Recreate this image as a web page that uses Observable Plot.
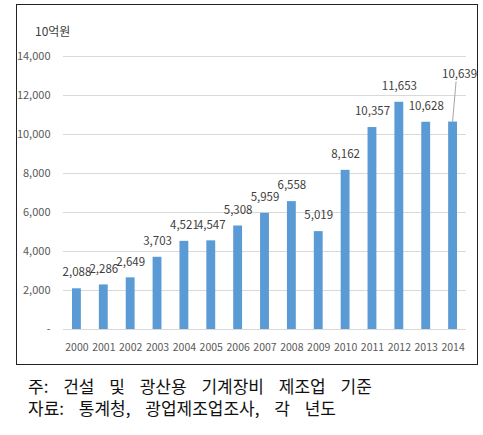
<!DOCTYPE html>
<html>
<head>
<meta charset="utf-8">
<script src="https://cdn.jsdelivr.net/npm/d3@7"></script>
<script src="https://cdn.jsdelivr.net/npm/@observablehq/plot@0.6"></script>
<style>
  body { margin: 0; background: #fff; width: 483px; height: 435px; position: relative; overflow: hidden; }
  #chart { position: absolute; left: 16px; top: 4px; border: 1.5px solid #222; background: #fff; }
  #chart svg { display: block; }
  #caption { position: absolute; left: 28px; top: 375px; font-family: "Noto Sans CJK KR", sans-serif; font-size: 17px; line-height: 22px; color: #111; word-spacing: 11px; white-space: nowrap; }
</style>
</head>
<body>
<div id="chart"></div>
<div id="caption"></div>
<script>
const years = ["2000","2001","2002","2003","2004","2005","2006","2007","2008","2009","2010","2011","2012","2013","2014"];
const values = [2088, 2286, 2649, 3703, 4521, 4547, 5308, 5959, 6558, 5019, 8162, 10357, 11653, 10628, 10639];
const yTicks = [0, 2000, 4000, 6000, 8000, 10000, 12000, 14000];
const unitLabel = "10억원";
const captionLines = ["주: 건설 및 광산용 기계장비 제조업 기준", "자료: 통계청, 광업제조업조사, 각 년도"];

const data = years.map((year, i) => ({year, value: values[i]}));
const fmt = d3.format(",");
const lastYear = years[years.length - 1];

const leader = (index, scales) => {
  const sx = scales.x, sy = scales.y;
  const bw = typeof sx.bandwidth === "function" ? sx.bandwidth() : (sx.bandwidth || 0);
  const d = data.find(e => e.year === lastYear);
  const x = sx(d.year) + bw / 2;
  const y = sy(d.value);
  return d3.create("svg:line")
    .attr("x1", x).attr("y1", y)
    .attr("x2", x + 3.5).attr("y2", y - 40)
    .attr("stroke", "#a6a6a6").attr("stroke-width", 1)
    .node();
};

const chart = Plot.plot({
  width: 460,
  height: 359,
  marginLeft: 46,
  marginRight: 11,
  marginTop: 51,
  marginBottom: 35,
  style: { fontFamily: "'Noto Sans CJK KR', sans-serif", background: "#fff" },
  x: { type: "band", domain: years, paddingInner: 0.67, paddingOuter: 0.335, round: false, label: null },
  y: { domain: [0, 14000], label: null },
  marks: [
    Plot.gridY(yTicks, { stroke: "#d9d9d9", strokeOpacity: 1, strokeWidth: 1 }),
    Plot.axisY(yTicks, { tickSize: 0, tickPadding: 13, fontSize: 11, fill: "#595959",
      tickFormat: d => d === 0 ? "-" : fmt(d), label: null }),
    Plot.axisX({ tickSize: 0, tickPadding: 14, fontSize: 10.5, fill: "#595959", label: null }),
    Plot.barY(data, { x: "year", y: "value", fill: "#5B9BD5" }),
    Plot.text(data.filter(d => d.year !== lastYear), { x: "year", y: "value", text: d => fmt(d.value), dy: -16, fontSize: 11.5, fill: "#404040" }),
    Plot.text(data.filter(d => d.year === lastYear), { x: "year", y: "value", text: d => fmt(d.value), dx: 6.5, dy: -48, fontSize: 11.5, fill: "#404040" }),
    leader,
    Plot.text([unitLabel], { frameAnchor: "top-left", dx: -28.5, dy: -29, textAnchor: "start", fontSize: 12, fill: "#404040" })
  ]
});
document.getElementById("chart").append(chart);
document.getElementById("caption").innerHTML = captionLines.map(l => `<div>${l}</div>`).join("");
</script>
</body>
</html>
